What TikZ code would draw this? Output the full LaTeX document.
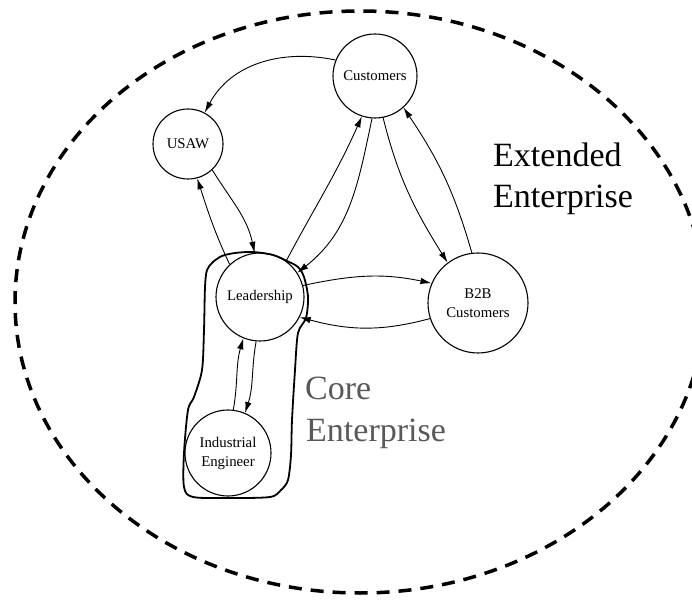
\documentclass[tikz,border=0pt]{standalone}
\usepackage{fontspec}
\setmainfont{Liberation Serif}
\usetikzlibrary{arrows.meta}

\tikzset{
  actor/.style={circle, draw, line width=1.1pt, inner sep=0pt,
    align=center, font=\fontsize{14.8}{19}\selectfont},
  flow/.style={line width=0.9pt, -{Latex[length=11pt,width=6.5pt]}},
  boundary/.style={line width=3.5pt, dash pattern=on 13pt off 9pt},
  coreline/.style={line width=1.8pt, line join=round},
  biglabel/.style={anchor=base west, inner sep=0pt,
    font=\fontsize{34}{41}\selectfont}
}

\begin{document}
\begin{tikzpicture}[x=1pt,y=1pt]
  \useasboundingbox (0,0) rectangle (692,599);

  % extended enterprise boundary
  \draw[boundary] (360,297) ellipse [x radius=345, y radius=291];

  % actors
  \node[actor, minimum size=84pt]  (cust) at (375,523) {Customers};
  \node[actor, minimum size=70pt]  (usaw) at (188,455) {USAW};
  \node[actor, minimum size=88pt]  (lead) at (260,302) {Leadership};
  \node[actor, minimum size=86pt]  (ie)   at (228,146) {Industrial\\Engineer};
  \node[actor, minimum size=100pt] (b2b)  at (478,296) {B2B\\Customers};

  % core enterprise outline
  \draw[coreline] plot[smooth cycle, tension=0.5] coordinates {
    (213,337) (222,343) (235,346) (253,347) (273,344) (287,338) (298,332)
    (304,322) (308,302) (306,281) (298,266) (295,229) (292,179) (291,144)
    (288,119) (281,109) (270,102) (230,101) (193,102) (184,112) (184,146)
    (188,189) (194,202) (202,229) (204,269) (205,312) (207,329)};

  % information flows
  \draw[flow] (cust.158) to[out=168,in=62] (usaw.62);
  \draw[flow] (lead.133) to[out=115,in=-72] (usaw.-75);
  \draw[flow] (usaw.-47) to[out=-58,in=102] (lead.97);
  \draw[flow] (lead.54)  to[out=62,in=-114] (cust.-108);
  \draw[flow] (cust.-94) to[out=-102,in=38] (lead.33);
  \draw[flow] (cust.-79) to[out=-76,in=122] (b2b.127);
  \draw[flow] (b2b.97)   to[out=106,in=-56] (cust.-48);
  \draw[flow] (lead.15)  to[out=12,in=168] (b2b.157);
  \draw[flow] (b2b.198)  to[out=195,in=-15] (lead.-27);
  \draw[flow] (lead.-95) to[out=-100,in=72] (ie.67);
  \draw[flow] (ie.83)    to[out=80,in=-106] (lead.-112);

  % labels
  \node[biglabel] (ext1) at (493,432) {Extended};
  \node[biglabel] (ext2) at (493,391) {Enterprise};
  \node[biglabel, text=black!65] (core1) at (305,199) {Core};
  \node[biglabel, text=black!65] (core2) at (306,157) {Enterprise};
\end{tikzpicture}
\end{document}
